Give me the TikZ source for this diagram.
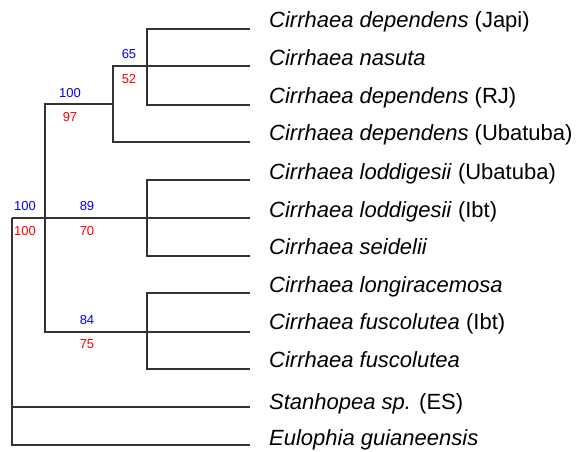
\documentclass[tikz,border=0pt]{standalone}
\usepackage{fontspec}
\setmainfont{Liberation Sans}
\usetikzlibrary{positioning}

\tikzset{
  branch/.style={draw=black!80, line width=1.4pt},
  taxon/.style={anchor=base west, inner sep=0pt, font=\fontsize{22}{22}\selectfont},
  bsup/.style={text=blue, inner sep=0pt, font=\fontsize{13}{13}\selectfont},
  mlsup/.style={text=red, inner sep=0pt, font=\fontsize{13}{13}\selectfont}
}

\begin{document}
\begin{tikzpicture}[x=1pt, y=-1pt]
  \useasboundingbox (0,0) rectangle (576,451);

  % taxa
  \node[taxon] (t1) at (269,27) {\textit{Cirrhaea dependens} (Japi)};
  \node[taxon] (t2) at (269,65) {\textit{Cirrhaea nasuta}};
  \node[taxon] (t3) at (269,103) {\textit{Cirrhaea dependens} (RJ)};
  \node[taxon] (t4) at (269,140) {\textit{Cirrhaea dependens} (Ubatuba)};
  \node[taxon] (t5) at (269,179) {\textit{Cirrhaea loddigesii} (Ubatuba)};
  \node[taxon] (t6) at (269,217) {\textit{Cirrhaea loddigesii} (Ibt)};
  \node[taxon] (t7) at (269,254) {\textit{Cirrhaea seidelii}};
  \node[taxon] (t8) at (269,292) {\textit{Cirrhaea longiracemosa}};
  \node[taxon] (t9) at (269,329) {\textit{Cirrhaea fuscolutea} (Ibt)};
  \node[taxon] (t10) at (269,367) {\textit{Cirrhaea fuscolutea}};
  \node[taxon] (t11) at (269,409) {\textit{Stanhopea sp.} (ES)};
  \node[taxon] (t12) at (269,445) {\textit{Eulophia guianeensis}};

  % tips
  \coordinate (e1) at (250,29);
  \coordinate (e2) at (250,66);
  \coordinate (e3) at (250,105);
  \coordinate (e4) at (250,142);
  \coordinate (e5) at (250,180);
  \coordinate (e6) at (250,218);
  \coordinate (e7) at (250,256);
  \coordinate (e8) at (250,293);
  \coordinate (e9) at (250,332);
  \coordinate (e10) at (250,369);
  \coordinate (e11) at (250,407);
  \coordinate (e12) at (250,445);

  % internal nodes
  \coordinate (root) at (12,218);
  \coordinate (n100) at (45,218);
  \coordinate (n97) at (113,104);
  \coordinate (n65) at (147,66);
  \coordinate (n89) at (147,218);
  \coordinate (n84) at (147,332);

  \draw[branch] (root) -- (n100) -- (n89) -- (e6);
  \draw[branch] (root) |- (e11);
  \draw[branch] (root) |- (e12);
  \draw[branch] (n100) |- (n97);
  \draw[branch] (n100) |- (n84);
  \draw[branch] (n97) |- (n65);
  \draw[branch] (n97) |- (e4);
  \draw[branch] (n65) |- (e1);
  \draw[branch] (n65) -- (e2);
  \draw[branch] (n65) |- (e3);
  \draw[branch] (n89) |- (e5);
  \draw[branch] (n89) |- (e7);
  \draw[branch] (n84) |- (e8);
  \draw[branch] (n84) -- (e9);
  \draw[branch] (n84) |- (e10);

  % support values
  \node[bsup] (b65) at (129,54) {65};
  \node[mlsup] (m52) at (129,79) {52};
  \node[bsup] (b97) at (70,93) {100};
  \node[mlsup] (m97) at (70,117) {97};
  \node[bsup] (b100) at (25,206) {100};
  \node[mlsup] (m100) at (25,231) {100};
  \node[bsup] (b89) at (87,206) {89};
  \node[mlsup] (m89) at (87,231) {70};
  \node[bsup] (b84) at (87,320) {84};
  \node[mlsup] (m84) at (87,344) {75};
\end{tikzpicture}
\end{document}
